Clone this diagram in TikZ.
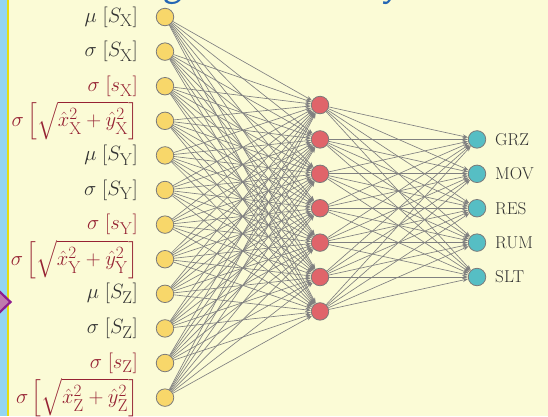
\documentclass[tikz,border=0pt]{standalone}
\usepackage{amsmath}
\usetikzlibrary{arrows.meta}
\DeclareMathSizes{20.74}{20.74}{17.28}{14.4}
\definecolor{bg}{HTML}{FBFBD6}
\definecolor{stripblue}{HTML}{93D5F2}
\definecolor{stripyellow}{HTML}{E6DF10}
\definecolor{titleblue}{HTML}{2466B4}
\definecolor{dmdline}{HTML}{8E1C8E}
\definecolor{dmdfill}{HTML}{C07AAE}
\definecolor{inyellow}{HTML}{F8D76A}
\definecolor{hidred}{HTML}{E0646A}
\definecolor{outteal}{HTML}{56BEC4}
\definecolor{nodeline}{HTML}{7A7A7A}
\definecolor{edgegray}{HTML}{808080}
\definecolor{labblack}{HTML}{333333}
\definecolor{labred}{HTML}{962233}
\tikzset{
  neuron/.style={circle, draw=nodeline, line width=0.8bp, minimum size=17.5bp, inner sep=0pt},
  inneuron/.style={neuron, fill=inyellow},
  hidneuron/.style={neuron, fill=hidred},
  outneuron/.style={neuron, fill=outteal},
  lab/.style={font=\fontsize{17.28}{21}\selectfont, inner sep=0pt},
  mlab/.style={font=\fontsize{20.74}{24}\selectfont, inner sep=0pt},
  inlab/.style={mlab, anchor=east, text=labblack},
  inlabred/.style={mlab, anchor=east, text=labred},
  outlab/.style={lab, anchor=west, text=labblack},
  conn/.style={draw=edgegray, line width=0.65bp, -{Stealth[length=5.5bp,width=4bp]}},
  titlefrag/.style={font=\sffamily\itshape\fontsize{40}{44}\selectfont, text=titleblue, anchor=base, inner sep=0pt}
}
\begin{document}
\begin{tikzpicture}[x=1bp,y=-1bp]
\useasboundingbox (0,0) rectangle (548,416);
\fill[bg] (0,0) rectangle (548,416);
\fill[stripblue] (0,0) rectangle (7,416);
\fill[stripyellow] (7,0) rectangle (9.3,416);
\begin{scope}
  \clip (0,0) rectangle (548,416);
  \node[titlefrag] (tg) at (174,-4) {g};
  \node[titlefrag] (ty) at (392,-4) {y};
  \filldraw[draw=dmdline, fill=dmdfill, line width=2.2bp, line join=miter]
    (-11,302) -- (0,292) -- (10.5,302) -- (0,312) -- cycle;
\end{scope}
% input layer
\foreach \i in {1,...,12} {
  \node[inneuron] (i\i) at (165, {17+34.6*(\i-1)}) {};
}
% hidden layer
\foreach \j in {1,...,7} {
  \node[hidneuron] (h\j) at (320, {105+34.4*(\j-1)}) {};
}
% output layer
\foreach \k in {1,...,5} {
  \node[outneuron] (o\k) at (477, {139.4+34.4*(\k-1)}) {};
}
% connections
\foreach \i in {1,...,12} {
  \foreach \j in {1,...,7} {
    \draw[conn] (i\i) -- (h\j);
  }
}
\foreach \j in {1,...,7} {
  \foreach \k in {1,...,5} {
    \draw[conn] (h\j) -- (o\k);
  }
}
% input labels
\node[inlab]    (l1)  at (138, 17)    {$\mu\;[S_{\mathrm{X}}]$};
\node[inlab]    (l2)  at (138, 51.6)  {$\sigma\;[S_{\mathrm{X}}]$};
\node[inlabred] (l3)  at (138, 86.2)  {$\sigma\;[s_{\mathrm{X}}]$};
\node[inlabred] (l4)  at (138, 120.8) {$\sigma\left[\sqrt{\hat{x}^2_{\mathrm{X}}+\hat{y}^2_{\mathrm{X}}}\right]$};
\node[inlab]    (l5)  at (138, 155.4) {$\mu\;[S_{\mathrm{Y}}]$};
\node[inlab]    (l6)  at (138, 190)   {$\sigma\;[S_{\mathrm{Y}}]$};
\node[inlabred] (l7)  at (138, 224.6) {$\sigma\;[s_{\mathrm{Y}}]$};
\node[inlabred] (l8)  at (138, 259.2) {$\sigma\left[\sqrt{\hat{x}^2_{\mathrm{Y}}+\hat{y}^2_{\mathrm{Y}}}\right]$};
\node[inlab]    (l9)  at (138, 293.8) {$\mu\;[S_{\mathrm{Z}}]$};
\node[inlab]    (l10) at (138, 328.4) {$\sigma\;[S_{\mathrm{Z}}]$};
\node[inlabred] (l11) at (138, 363)   {$\sigma\;[s_{\mathrm{Z}}]$};
\node[inlabred] (l12) at (138, 397.6) {$\sigma\left[\sqrt{\hat{x}^2_{\mathrm{Z}}+\hat{y}^2_{\mathrm{Z}}}\right]$};
% output labels
\node[outlab] (g1) at (495, 139.4) {GRZ};
\node[outlab] (g2) at (495, 173.8) {MOV};
\node[outlab] (g3) at (495, 208.2) {RES};
\node[outlab] (g4) at (495, 242.6) {RUM};
\node[outlab] (g5) at (495, 277)   {SLT};
\end{tikzpicture}
\end{document}
